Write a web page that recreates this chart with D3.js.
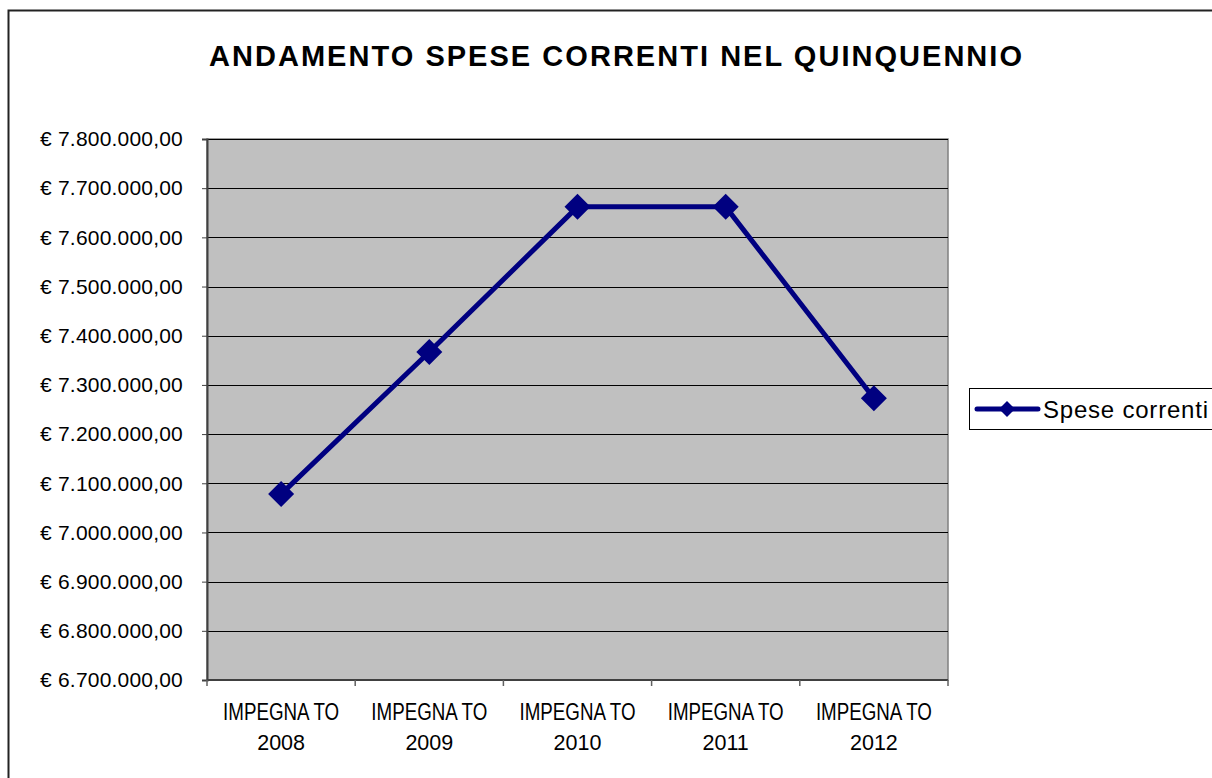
<!DOCTYPE html>
<html>
<head>
<meta charset="utf-8">
<script src="https://cdn.jsdelivr.net/npm/d3@7"></script>
<style>
  body { margin: 0; background: #fff; }
  svg { display: block; font-family: Arial, "Liberation Sans", sans-serif; }
</style>
</head>
<body>
<script>
// dati del grafico
const categorie = ["2008", "2009", "2010", "2011", "2012"];
const etichettaCat = "IMPEGNA TO";
const speseCorrenti = [7078000, 7367000, 7662000, 7662000, 7273000];
const tickValori = [6700000, 6800000, 6900000, 7000000, 7100000, 7200000,
                    7300000, 7400000, 7500000, 7600000, 7700000, 7800000];
const titolo = "ANDAMENTO SPESE CORRENTI NEL QUINQUENNIO";
const nomeSerie = "Spese correnti";

const width = 1212, height = 778;
const plot = {x0: 207, x1: 948, y0: 139, y1: 680};
const colore = "#000080";

const svg = d3.select("body").append("svg")
    .attr("width", width)
    .attr("height", height);

// cornice esterna
svg.append("rect")
    .attr("x", 8.5).attr("y", 10.5)
    .attr("width", 1240).attr("height", 800)
    .attr("fill", "#fff")
    .attr("stroke", "#222")
    .attr("stroke-width", 2);

// titolo
svg.append("text")
    .attr("x", 209).attr("y", 66)
    .attr("textLength", 813)
    .attr("lengthAdjust", "spacing")
    .style("font-size", "29px")
    .style("font-weight", "bold")
    .text(titolo);

const xScale = d3.scaleBand()
    .domain(categorie)
    .range([plot.x0, plot.x1]);
const yScale = d3.scaleLinear()
    .domain([6700000, 7800000])
    .range([plot.y1, plot.y0]);

const fmt = d => "€ " + d3.format(",.2f")(d).replace(/,/g, "#").replace(".", ",").replace(/#/g, ".");

// area del grafico
svg.append("rect")
    .attr("x", plot.x0).attr("y", plot.y0)
    .attr("width", plot.x1 - plot.x0).attr("height", plot.y1 - plot.y0)
    .attr("fill", "#C0C0C0")
    .attr("stroke", "#808080")
    .attr("stroke-width", 1.5);

// griglia
svg.append("g")
    .selectAll("line")
    .data(tickValori)
    .join("line")
    .attr("x1", plot.x0).attr("x2", plot.x1)
    .attr("y1", d => Math.round(yScale(d)) + 0.5)
    .attr("y2", d => Math.round(yScale(d)) + 0.5)
    .attr("stroke", "#000")
    .attr("stroke-width", 1);

// asse y
const yAxis = svg.append("g")
    .attr("transform", `translate(${plot.x0},0)`)
    .call(d3.axisLeft(yScale).tickValues(tickValori).tickFormat(fmt).tickSize(5).tickPadding(19));
yAxis.select(".domain").attr("stroke", "#404040").attr("stroke-width", 2);
yAxis.selectAll(".tick line").attr("stroke", "#404040");
yAxis.selectAll(".tick text")
    .attr("fill", "#000")
    .style("font-size", "21px")
    .style("letter-spacing", "0.2px")
    .style("font-family", "Arial, 'Liberation Sans', sans-serif");

// asse x
const xAxis = svg.append("g")
    .attr("transform", `translate(0,${plot.y1})`);
xAxis.append("line")
    .attr("x1", plot.x0).attr("x2", plot.x1)
    .attr("stroke", "#404040").attr("stroke-width", 2);
xAxis.selectAll("line.tk")
    .data(categorie.concat(["fine"]))
    .join("line")
    .attr("class", "tk")
    .attr("x1", (d, i) => i < categorie.length ? xScale(d) : plot.x1)
    .attr("x2", (d, i) => i < categorie.length ? xScale(d) : plot.x1)
    .attr("y1", 0).attr("y2", 6)
    .attr("stroke", "#606060").attr("stroke-width", 1.5);
const etichette = xAxis.selectAll("g.lab")
    .data(categorie)
    .join("g")
    .attr("class", "lab")
    .attr("transform", d => `translate(${xScale(d) + xScale.bandwidth() / 2},0)`);
etichette.append("text")
    .attr("y", 40)
    .attr("text-anchor", "middle")
    .attr("textLength", 116)
    .attr("lengthAdjust", "spacingAndGlyphs")
    .style("font-size", "23px")
    .text(etichettaCat);
etichette.append("text")
    .attr("y", 70)
    .attr("text-anchor", "middle")
    .style("font-size", "21.5px")
    .text(d => d);

// serie
const linea = d3.line()
    .x((d, i) => xScale(categorie[i]) + xScale.bandwidth() / 2)
    .y(d => yScale(d));
svg.append("path")
    .datum(speseCorrenti)
    .attr("d", linea)
    .attr("fill", "none")
    .attr("stroke", colore)
    .attr("stroke-width", 5);

const diamante = r => `M0,${-r}L${r},0L0,${r}L${-r},0Z`;
svg.append("g")
    .selectAll("path")
    .data(speseCorrenti)
    .join("path")
    .attr("transform", (d, i) => `translate(${xScale(categorie[i]) + xScale.bandwidth() / 2},${yScale(d)})`)
    .attr("d", diamante(13))
    .attr("fill", colore);

// legenda
const leg = svg.append("g");
leg.append("rect")
    .attr("x", 969.5).attr("y", 388.5)
    .attr("width", 300).attr("height", 41)
    .attr("fill", "#fff")
    .attr("stroke", "#000")
    .attr("stroke-width", 1);
leg.append("line")
    .attr("x1", 977).attr("x2", 1038)
    .attr("y1", 409).attr("y2", 409)
    .attr("stroke", colore).attr("stroke-width", 5)
    .attr("stroke-linecap", "round");
leg.append("path")
    .attr("transform", "translate(1007,409)")
    .attr("d", diamante(8))
    .attr("fill", colore);
leg.append("text")
    .attr("x", 1043).attr("y", 418)
    .attr("textLength", 165)
    .attr("lengthAdjust", "spacing")
    .style("font-size", "24px")
    .text(nomeSerie);
</script>
</body>
</html>
